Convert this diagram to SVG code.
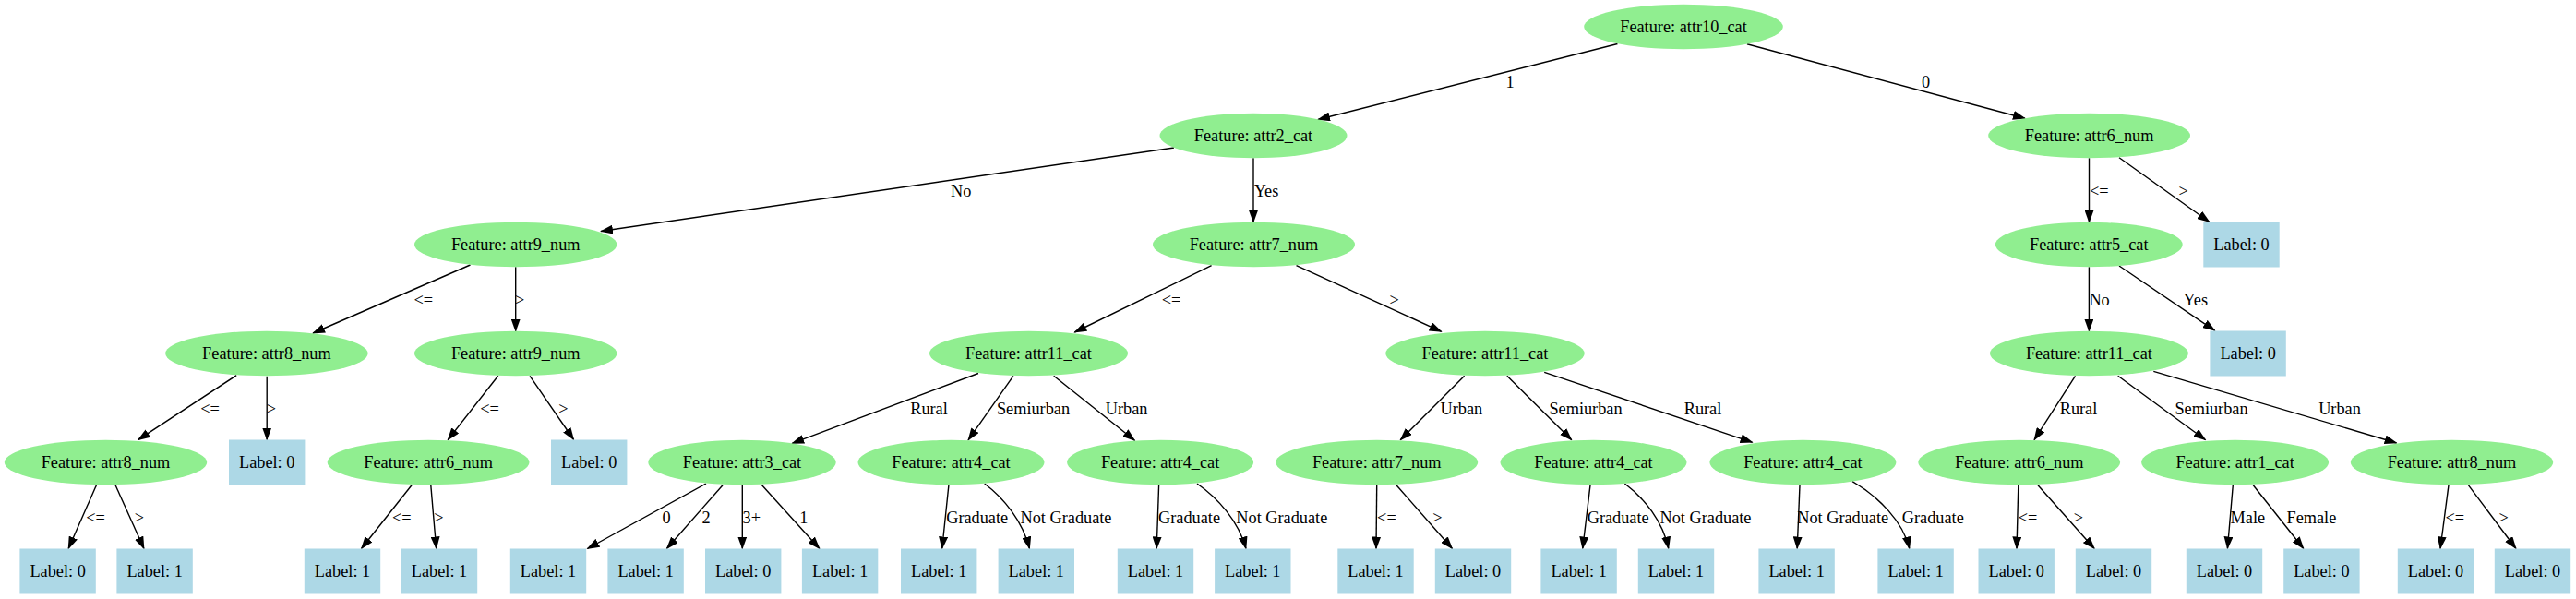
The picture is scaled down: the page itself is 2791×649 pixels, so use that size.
<svg xmlns="http://www.w3.org/2000/svg" width="2791" height="649" viewBox="0 0 2791 649">
<style>
text{font-family:"Liberation Serif","Times New Roman",serif;font-size:18.3px;text-anchor:middle;fill:#000}
.f ellipse{fill:#90EE90}
.l rect{fill:#ADD8E6}
#edges path{fill:none;stroke:#000;stroke-width:1.4;marker-end:url(#ah)}
</style>
<defs>
<marker id="ah" viewBox="0 0 14 10" refX="13" refY="5" markerWidth="14" markerHeight="10" markerUnits="userSpaceOnUse" orient="auto">
<path d="M0,0 L14,5 L0,10 z" fill="#000"/>
</marker>
</defs>
<rect width="2791" height="649" fill="#fff"/>
<g id="edges">
<path d="M1752.5,47.5 L1428,129.5"/>
<path d="M1893,47.8 L2194,128.3"/>
<path d="M1272,160 L651,250.5"/>
<path d="M1358,171.3 L1358,240.7"/>
<path d="M2263.5,171.3 L2263.5,240.7"/>
<path d="M2296,170.7 L2393.8,240.5"/>
<path d="M509.5,287 L339,361"/>
<path d="M558.7,289.3 L558.7,358.7"/>
<path d="M1312.6,287.7 L1164.3,360"/>
<path d="M1404.5,287.7 L1561.7,359.3"/>
<path d="M2263.4,289.3 L2263.4,358.7"/>
<path d="M2296,288 L2399.7,358.3"/>
<path d="M256.2,406.7 L149.5,476.7"/>
<path d="M289.2,407.7 L289.2,476.5"/>
<path d="M539.7,407.3 L485.2,476.7"/>
<path d="M574.1,407.3 L621.6,476.5"/>
<path d="M1060,404.5 L858.2,480.4"/>
<path d="M1097.9,407.3 L1049,476.9"/>
<path d="M1141.7,407.3 L1229.5,477.3"/>
<path d="M1586.6,407.3 L1517.2,476.7"/>
<path d="M1632.8,407.3 L1702.8,476.7"/>
<path d="M1673.2,403.3 L1898.6,479.3"/>
<path d="M2248.5,407.3 L2204,476.7"/>
<path d="M2294.7,407.3 L2389.6,476.7"/>
<path d="M2333.3,402.3 L2596.6,480"/>
<path d="M104.4,525.7 L74.1,594.5"/>
<path d="M125.1,525.7 L156,594.5"/>
<path d="M446,525.7 L391.5,594.5"/>
<path d="M466.8,525.7 L472.7,594.5"/>
<path d="M765,524 L636.4,594.5"/>
<path d="M783,525.7 L722.4,594.5"/>
<path d="M804.3,525.7 L804.3,594.5"/>
<path d="M825.6,525.7 L887.9,594.5"/>
<path d="M1027.9,525.7 L1020.7,594.5"/>
<path d="M1066.7,524 C1088,540 1108,565 1115.5,594.5"/>
<path d="M1255.6,525.7 L1253.2,594.5"/>
<path d="M1297,524 C1320,540 1342,565 1350,594.5"/>
<path d="M1491.7,525.7 L1491,594.5"/>
<path d="M1513,525.7 L1573.5,594.5"/>
<path d="M1723,525.7 L1714.7,594.5"/>
<path d="M1760.4,524 C1781.7,540 1801.7,565 1807.8,594.5"/>
<path d="M1950,525.7 L1947.2,594.5"/>
<path d="M2007,521.7 C2035,538 2062,565 2068.8,594.5"/>
<path d="M2186.8,525.7 L2185,594.5"/>
<path d="M2208,525.7 L2269.2,594.5"/>
<path d="M2419.3,525.7 L2413.4,594.5"/>
<path d="M2441.3,525.7 L2495.8,594.5"/>
<path d="M2653,525.7 L2644,594.5"/>
<path d="M2674.4,525.7 L2726,594.5"/>
</g>
<g id="edge-labels">
<text x="1636" y="94.5">1</text>
<text x="2086.6" y="94.5">0</text>
<text x="1041.2" y="212.5">No</text>
<text x="1372" y="212.5">Yes</text>
<text x="2274.3" y="212.5">&lt;=</text>
<text x="2365.6" y="212.5">&gt;</text>
<text x="458.8" y="330.5">&lt;=</text>
<text x="563.2" y="330.5">&gt;</text>
<text x="1269" y="330.5">&lt;=</text>
<text x="1510.6" y="330.5">&gt;</text>
<text x="2274.6" y="330.5">No</text>
<text x="2378.7" y="330.5">Yes</text>
<text x="227.5" y="448.5">&lt;=</text>
<text x="293.9" y="448.5">&gt;</text>
<text x="530.5" y="448.5">&lt;=</text>
<text x="610.3" y="448.5">&gt;</text>
<text x="1006.5" y="448.5">Rural</text>
<text x="1119.5" y="448.5">Semiurban</text>
<text x="1220.6" y="448.5">Urban</text>
<text x="1583.3" y="448.5">Urban</text>
<text x="1718" y="448.5">Semiurban</text>
<text x="1845" y="448.5">Rural</text>
<text x="2252" y="448.5">Rural</text>
<text x="2396" y="448.5">Semiurban</text>
<text x="2535" y="448.5">Urban</text>
<text x="103.5" y="566.5">&lt;=</text>
<text x="150.8" y="566.5">&gt;</text>
<text x="435.3" y="566.5">&lt;=</text>
<text x="475.4" y="566.5">&gt;</text>
<text x="722" y="566.5">0</text>
<text x="765" y="566.5">2</text>
<text x="814.3" y="566.5">3+</text>
<text x="870.7" y="566.5">1</text>
<text x="1058.7" y="566.5">Graduate</text>
<text x="1155" y="566.5">Not Graduate</text>
<text x="1288.5" y="566.5">Graduate</text>
<text x="1388.8" y="566.5">Not Graduate</text>
<text x="1502.4" y="566.5">&lt;=</text>
<text x="1557.5" y="566.5">&gt;</text>
<text x="1753.2" y="566.5">Graduate</text>
<text x="1848" y="566.5">Not Graduate</text>
<text x="1996.7" y="566.5">Not Graduate</text>
<text x="2094.3" y="566.5">Graduate</text>
<text x="2197" y="566.5">&lt;=</text>
<text x="2252" y="566.5">&gt;</text>
<text x="2435.3" y="566.5">Male</text>
<text x="2504.4" y="566.5">Female</text>
<text x="2659.8" y="566.5">&lt;=</text>
<text x="2712.6" y="566.5">&gt;</text>
</g>
<g id="n0" class="f"><ellipse cx="1824" cy="29" rx="107.8" ry="24.3"/><text x="1824" y="35.3">Feature: attr10_cat</text></g>
<g id="n1" class="f"><ellipse cx="1358" cy="147" rx="101.5" ry="24.3"/><text x="1358" y="153.3">Feature: attr2_cat</text></g>
<g id="n2" class="f"><ellipse cx="2263.6" cy="147" rx="109.4" ry="24.3"/><text x="2263.6" y="153.3">Feature: attr6_num</text></g>
<g id="n3" class="f"><ellipse cx="558.7" cy="265" rx="109.7" ry="24.3"/><text x="558.7" y="271.3">Feature: attr9_num</text></g>
<g id="n4" class="f"><ellipse cx="1358.5" cy="265" rx="109.5" ry="24.3"/><text x="1358.5" y="271.3">Feature: attr7_num</text></g>
<g id="n5" class="l"><rect x="2387.3" y="240.5" width="82.4" height="49"/><text x="2428.5" y="271.3">Label: 0</text></g>
<g id="n6" class="f"><ellipse cx="2263.3" cy="265" rx="101.4" ry="24.3"/><text x="2263.3" y="271.3">Feature: attr5_cat</text></g>
<g id="n7" class="f"><ellipse cx="288.9" cy="383" rx="109.7" ry="24.3"/><text x="288.9" y="389.3">Feature: attr8_num</text></g>
<g id="n8" class="f"><ellipse cx="558.7" cy="383" rx="109.7" ry="24.3"/><text x="558.7" y="389.3">Feature: attr9_num</text></g>
<g id="n9" class="f"><ellipse cx="1114.5" cy="383" rx="107.5" ry="24.3"/><text x="1114.5" y="389.3">Feature: attr11_cat</text></g>
<g id="n10" class="f"><ellipse cx="1609" cy="383" rx="107.7" ry="24.3"/><text x="1609" y="389.3">Feature: attr11_cat</text></g>
<g id="n11" class="f"><ellipse cx="2263.4" cy="383" rx="107.4" ry="24.3"/><text x="2263.4" y="389.3">Feature: attr11_cat</text></g>
<g id="n12" class="l"><rect x="2394.4" y="358.5" width="82.4" height="49"/><text x="2435.6" y="389.3">Label: 0</text></g>
<g id="n13" class="f"><ellipse cx="114.5" cy="501" rx="109.7" ry="24.3"/><text x="114.5" y="507.3">Feature: attr8_num</text></g>
<g id="n14" class="l"><rect x="248" y="476.5" width="82.4" height="49"/><text x="289.2" y="507.3">Label: 0</text></g>
<g id="n15" class="f"><ellipse cx="464.1" cy="501" rx="109.4" ry="24.3"/><text x="464.1" y="507.3">Feature: attr6_num</text></g>
<g id="n16" class="l"><rect x="597" y="476.5" width="82.4" height="49"/><text x="638.2" y="507.3">Label: 0</text></g>
<g id="n17" class="f"><ellipse cx="804" cy="501" rx="101.7" ry="24.3"/><text x="804" y="507.3">Feature: attr3_cat</text></g>
<g id="n18" class="f"><ellipse cx="1030.5" cy="501" rx="101" ry="24.3"/><text x="1030.5" y="507.3">Feature: attr4_cat</text></g>
<g id="n19" class="f"><ellipse cx="1257.1" cy="501" rx="101" ry="24.3"/><text x="1257.1" y="507.3">Feature: attr4_cat</text></g>
<g id="n20" class="f"><ellipse cx="1491.7" cy="501" rx="109.5" ry="24.3"/><text x="1491.7" y="507.3">Feature: attr7_num</text></g>
<g id="n21" class="f"><ellipse cx="1726.5" cy="501" rx="101" ry="24.3"/><text x="1726.5" y="507.3">Feature: attr4_cat</text></g>
<g id="n22" class="f"><ellipse cx="1953.4" cy="501" rx="101" ry="24.3"/><text x="1953.4" y="507.3">Feature: attr4_cat</text></g>
<g id="n23" class="f"><ellipse cx="2187.7" cy="501" rx="109.4" ry="24.3"/><text x="2187.7" y="507.3">Feature: attr6_num</text></g>
<g id="n24" class="f"><ellipse cx="2421.6" cy="501" rx="101.5" ry="24.3"/><text x="2421.6" y="507.3">Feature: attr1_cat</text></g>
<g id="n25" class="f"><ellipse cx="2656.5" cy="501" rx="109.7" ry="24.3"/><text x="2656.5" y="507.3">Feature: attr8_num</text></g>
<g id="n26" class="l"><rect x="21.4" y="594.5" width="82.4" height="49"/><text x="62.6" y="625.3">Label: 0</text></g>
<g id="n27" class="l"><rect x="126.4" y="594.5" width="82.4" height="49"/><text x="167.6" y="625.3">Label: 1</text></g>
<g id="n28" class="l"><rect x="329.8" y="594.5" width="82.4" height="49"/><text x="371" y="625.3">Label: 1</text></g>
<g id="n29" class="l"><rect x="434.8" y="594.5" width="82.4" height="49"/><text x="476" y="625.3">Label: 1</text></g>
<g id="n30" class="l"><rect x="552.8" y="594.5" width="82.4" height="49"/><text x="594" y="625.3">Label: 1</text></g>
<g id="n31" class="l"><rect x="658.4" y="594.5" width="82.4" height="49"/><text x="699.6" y="625.3">Label: 1</text></g>
<g id="n32" class="l"><rect x="764" y="594.5" width="82.4" height="49"/><text x="805.2" y="625.3">Label: 0</text></g>
<g id="n33" class="l"><rect x="868.9" y="594.5" width="82.4" height="49"/><text x="910.1" y="625.3">Label: 1</text></g>
<g id="n34" class="l"><rect x="976" y="594.5" width="82.4" height="49"/><text x="1017.2" y="625.3">Label: 1</text></g>
<g id="n35" class="l"><rect x="1081.6" y="594.5" width="82.4" height="49"/><text x="1122.8" y="625.3">Label: 1</text></g>
<g id="n36" class="l"><rect x="1210.8" y="594.5" width="82.4" height="49"/><text x="1252" y="625.3">Label: 1</text></g>
<g id="n37" class="l"><rect x="1316.1" y="594.5" width="82.4" height="49"/><text x="1357.3" y="625.3">Label: 1</text></g>
<g id="n38" class="l"><rect x="1449.3" y="594.5" width="82.4" height="49"/><text x="1490.5" y="625.3">Label: 1</text></g>
<g id="n39" class="l"><rect x="1554.8" y="594.5" width="82.4" height="49"/><text x="1596" y="625.3">Label: 0</text></g>
<g id="n40" class="l"><rect x="1669.4" y="594.5" width="82.4" height="49"/><text x="1710.6" y="625.3">Label: 1</text></g>
<g id="n41" class="l"><rect x="1774.8" y="594.5" width="82.4" height="49"/><text x="1816" y="625.3">Label: 1</text></g>
<g id="n42" class="l"><rect x="1905.4" y="594.5" width="82.4" height="49"/><text x="1946.6" y="625.3">Label: 1</text></g>
<g id="n43" class="l"><rect x="2034.4" y="594.5" width="82.4" height="49"/><text x="2075.6" y="625.3">Label: 1</text></g>
<g id="n44" class="l"><rect x="2143.5" y="594.5" width="82.4" height="49"/><text x="2184.7" y="625.3">Label: 0</text></g>
<g id="n45" class="l"><rect x="2248.8" y="594.5" width="82.4" height="49"/><text x="2290" y="625.3">Label: 0</text></g>
<g id="n46" class="l"><rect x="2368.8" y="594.5" width="82.4" height="49"/><text x="2410" y="625.3">Label: 0</text></g>
<g id="n47" class="l"><rect x="2474.2" y="594.5" width="82.4" height="49"/><text x="2515.4" y="625.3">Label: 0</text></g>
<g id="n48" class="l"><rect x="2597.8" y="594.5" width="82.4" height="49"/><text x="2639" y="625.3">Label: 0</text></g>
<g id="n49" class="l"><rect x="2702.8" y="594.5" width="82.4" height="49"/><text x="2744" y="625.3">Label: 0</text></g>
</svg>
